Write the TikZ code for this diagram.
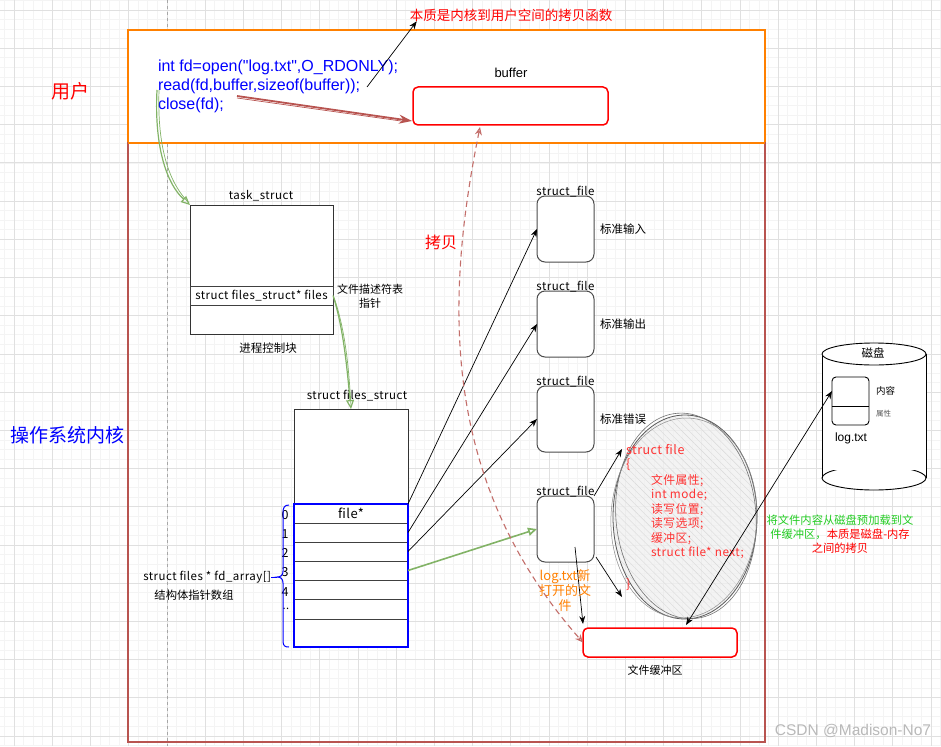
\documentclass[tikz,border=0pt]{standalone}
\usepackage{fontspec}
\setmainfont{Noto Sans CJK SC}
\newfontfamily\arialf{Liberation Sans}
\newfontfamily\labf[LetterSpace=4]{Noto Sans CJK SC}
\usetikzlibrary{arrows.meta,calc,patterns.meta}
\definecolor{kred}{HTML}{B85450}
\definecolor{uorange}{HTML}{FF8000}
\definecolor{sgreen}{HTML}{82B366}
\definecolor{tred}{HTML}{FF0000}
\definecolor{ered}{HTML}{FF3333}
\definecolor{gtxt}{HTML}{22CC22}
\definecolor{minorg}{HTML}{F4F4F4}
\definecolor{majorg}{HTML}{E0E0E0}
\definecolor{otxt}{HTML}{FF8000}
\begin{document}
\begin{tikzpicture}[x=1pt,y=-1pt,
  fs/.style={font=\fontsize{#1}{#1}\selectfont},
  lf/.style={font=\labf\fontsize{#1}{#1}\selectfont},
  lbl/.style={inner sep=0pt, outer sep=0pt},
  box/.style={draw=black!80, line width=1pt, fill=white, inner sep=0pt, outer sep=0pt, anchor=north west},
  rowbox/.style={draw=black!75, line width=1pt, fill=white, inner sep=0pt, outer sep=0pt, anchor=north west, minimum width=114pt},
  sfbox/.style={draw=black!70, line width=1pt, fill=white, rounded corners=8pt, minimum width=57pt, minimum height=66pt, anchor=north west, inner sep=0pt, outer sep=0pt},
  redbox/.style={draw=red, line width=1.5pt, rounded corners=5pt, fill=white, anchor=north west, inner sep=0pt, outer sep=0pt},
  arr/.style={-{Stealth[length=8pt,width=6pt]}, line width=0.7pt},
  garr/.style={sgreen, line width=1.2pt, -{Triangle[open,length=9pt,width=8pt]}},
  gline/.style={sgreen, line width=0.7pt}
]
\useasboundingbox (0,0) rectangle (941,746);
\fill[white] (0,0) rectangle (941,746);
% grid
\foreach \i in {0,...,99} {
  \draw[minorg, line width=0.5pt] ({4.45+9.55*\i},0) -- ({4.45+9.55*\i},746);
  \draw[minorg, line width=0.5pt] (0,{0.45+9.55*\i}) -- (941,{0.45+9.55*\i});
}
\foreach \i in {0,...,25} {
  \draw[majorg, line width=0.6pt] ({14+38.2*\i},0) -- ({14+38.2*\i},746);
  \draw[majorg, line width=0.6pt] (0,{10+38.2*\i}) -- (941,{10+38.2*\i});
}
\draw[gray!70, dashed, line width=0.6pt] (167,0) -- (167,746);

% user and kernel regions
\node[lbl, draw=uorange, line width=2.5pt, fill=white, anchor=north west, minimum width=637pt, minimum height=113pt] (user) at (128,30) {};
\node[lbl, draw=kred, line width=2.5pt, anchor=north west, minimum width=637pt, minimum height=599pt] (kernel) at (128,143) {};
\draw[uorange, line width=2.5pt] (user.south west) -- (user.south east);

\node[lbl, text=tred, fs=19] (ulabel) at (70,91) {用户};
\node[lbl, text=blue, fs=19] (klabel) at (67,435) {操作系统内核};

% code
\node[lbl, anchor=base west, text=blue, font=\arialf\fontsize{16}{19}\selectfont] (code1) at (158,72) {int fd=open("log.txt",O\_RDONLY);};
\node[lbl, anchor=base west, text=blue, font=\arialf\fontsize{16}{19}\selectfont] (code2) at (158,91) {read(fd,buffer,sizeof(buffer));};
\node[lbl, anchor=base west, text=blue, font=\arialf\fontsize{16}{19}\selectfont] (code3) at (158,110) {close(fd);};
\coordinate (gstart) at (157,90);
\coordinate (rdsrc) at (237,96);
\coordinate (rdend) at (367,87);

\node[lbl, text=tred, fs=13.5] (topnote) at (511,15) {本质是内核到用户空间的拷贝函数};

% buffer
\node[lbl, font=\arialf\fontsize{13}{13}\selectfont] (buflbl) at (511,73) {buffer};
\node[redbox, minimum width=195pt, minimum height=38pt] (buf) at (413,87) {};

% task_struct
\node[lbl, lf=11.5] (tasklbl) at (261,196) {task\_struct};
\node[box, minimum width=143pt, minimum height=129pt] (task) at (190,205) {};
\node[rowbox, minimum width=143pt, minimum height=19pt, lf=11.5] (trow) at (190,286) {struct files\_struct* files};
\node[lbl, fs=11.5] (pcb) at (268,348) {进程控制块};
\node[lbl, align=center, font=\fontsize{11}{14}\selectfont] (fdtp) at (370,296) {文件描述符表\\指针};

% files_struct
\node[lbl, lf=11.5] (fslbl) at (357,396) {struct files\_struct};
\node[box, minimum width=114pt, minimum height=238pt] (fsbox) at (294,409) {};
\node[rowbox, minimum height=19pt, lf=13] (r0) at (294,504) {file*};
\node[rowbox, minimum height=19pt] (r1) at (294,523) {};
\node[rowbox, minimum height=19pt] (r2) at (294,542) {};
\node[rowbox, minimum height=19pt] (r3) at (294,561) {};
\node[rowbox, minimum height=19pt] (r4) at (294,580) {};
\node[rowbox, minimum height=20pt] (r5) at (294,599) {};
\node[rowbox, minimum height=28pt] (r6) at (294,619) {};
\node[lbl, draw=blue, line width=1.8pt, anchor=north west, minimum width=114pt, minimum height=143pt] (fdarr) at (294,504) {};

\foreach \n/\y in {0/515,1/534,2/553,3/572,4/592} {
  \node[lbl, lf=12.5] (num\n) at (285,\y) {\n};
}
\node[lbl, lf=11] (numdots) at (286,609) {..};
\draw[blue, line width=1pt] (289,505) .. controls (284,505) and (283,508) .. (283,513) -- (283,571) .. controls (283,575) and (281,577) .. (277,577) .. controls (281,577) and (283,579) .. (283,583) -- (283,641) .. controls (283,646) and (285,647) .. (289,647);
\node[lbl, lf=11.5, anchor=east] (fdalbl) at (271,577) {struct files * fd\_array[]};
\draw[blue, line width=1pt] (fdalbl.east) -- (277,577);
\node[lbl, fs=11.3] (fdacn) at (194,595) {结构体指针数组};

% struct_file boxes
\foreach \k/\y in {1/196,2/291,3/386,4/496} {
  \node[sfbox] (sf\k) at (537,\y) {};
  \node[lbl, lf=11.5, anchor=south] (sfl\k) at ($(sf\k.north)+(0,1)$) {struct\_file};
}
\node[lbl, fs=11.5, anchor=west] (std0) at (600,229) {标准输入};
\node[lbl, fs=11.5, anchor=west] (std1) at (600,324) {标准输出};
\node[lbl, fs=11.5, anchor=west] (std2) at (600,419) {标准错误};

\draw[arr] (r0.north east) -- (sf1.west);
\draw[arr] (r1.east) -- (sf2.west);
\draw[arr] (r2.east) -- (sf3.west);

% ellipse (struct file)
\coordinate (ell) at (685,517);
\fill[gray!12, opacity=0.8] (ell) ellipse [x radius=72pt, y radius=102pt];
\fill[pattern={Lines[angle=-45,distance=5pt,line width=0.4pt]}, pattern color=gray!30] (ell) ellipse [x radius=72pt, y radius=102pt];
\draw[black!65, line width=0.8pt] (ell) ellipse [x radius=72pt, y radius=102pt];
\draw[black!55, line width=0.6pt, rotate around={5:(ell)}] ($(ell)+(1,-1)$) ellipse [x radius=70pt, y radius=103pt];
\draw[black!45, line width=0.5pt, rotate around={-3:(ell)}] ($(ell)+(-1,1)$) ellipse [x radius=73pt, y radius=100pt];
\node[lbl, text=ered, lf=12.5, anchor=west] (ef0) at (626,450) {struct file};
\node[lbl, text=ered, lf=12.5, anchor=west] (ef1) at (626,465) {\{};
\node[lbl, text=ered, anchor=north west, align=left, font=\labf\fontsize{11.8}{14.5}\selectfont] (ef2) at (651,474) {文件属性;\\int mode;\\读写位置;\\读写选项;\\缓冲区;\\struct file* next;};
\node[lbl, text=ered, lf=12.5, anchor=west] (ef3) at (626,585) {\}};
\coordinate (elltop) at (622,449);
\coordinate (ellbot) at (622,597);
\draw[arr] (sf4.north east) -- (elltop);
\draw[arr] ($(sf4.south east)+(2,-5)$) -- (ellbot);

% file buffer
\node[redbox, minimum width=154pt, minimum height=29pt] (fbuf) at (583,628) {};
\node[lbl, fs=11] (fbuflbl) at (655,670) {文件缓冲区};
\draw[arr] ($(sf4.center)+(9.5,18)$) -- ($(fbuf.north west)+(0,-4)$);
\node[lbl, text=otxt, align=center, font=\fontsize{13}{15}\selectfont] (newf) at (565,591) {log.txt新\\打开的文\\件};

% green arrows
\draw[garr] (gstart) .. controls (154,150) and (168,185) .. (task.north west);
\draw[gline] ($(gstart)+(2,0)$) .. controls (157,150) and (170,184) .. ($(task.north west)+(-1,-2)$);
\draw[garr] (trow.east) .. controls (344,330) and (347,370) .. (fsbox.north);
\draw[gline] ($(trow.east)+(1,2)$) .. controls (346,332) and (349,372) .. ($(fsbox.north)+(0,-3)$);
\draw[garr, line width=1.6pt] (r3.east) -- (sf4.west);

% copy arrows
\draw[kred, line width=1.8pt, -{Stealth[length=13pt,width=9pt]}] (rdsrc) -- ($(buf.south west)+(-1,-4)$);
\draw[kred, line width=0.7pt] ($(rdsrc)+(0,2)$) -- ($(buf.south west)+(-12,-4)$);
\draw[arr] (rdend) -- ($(topnote.south west)+(7,0)$);
\draw[kred!85, dashed, dash pattern=on 6pt off 4pt, line width=1.1pt, {Stealth[open,length=8pt,width=7pt]}-{Stealth[open,length=8pt,width=7pt]}] ($(buf.south west)+(67,2)$) .. controls (445,300) and (440,480) .. (fbuf.west);
\node[lbl, text=tred, fs=16] (copylbl) at (441,242) {拷贝};

% disk
\coordinate (dtop) at (874,354);
\coordinate (dbot) at (874,478);
\fill[white] (822,354) rectangle (926,478);
\draw[line width=0.9pt, fill=white] (dbot) ellipse [x radius=52pt, y radius=12pt];
\fill[white] (822,354) rectangle (926,470);
\draw[line width=0.9pt] (822,354) -- (822,478);
\draw[line width=0.9pt] (926,354) -- (926,478);
\draw[line width=0.9pt, fill=white] (dtop) ellipse [x radius=52pt, y radius=11pt];
\node[lbl, fs=11.5] (disklbl) at (873,353) {磁盘};
\node[lbl, draw, line width=0.9pt, rounded corners=4pt, fill=white, anchor=north west, minimum width=37pt, minimum height=48pt] (dlog) at (832,377) {};
\draw[line width=0.9pt] ($(dlog.north west)+(0,29)$) -- ($(dlog.north east)+(0,29)$);
\node[lbl, fs=9.5, anchor=west] (dcont) at (876,391) {内容};
\node[lbl, fs=7.5, anchor=west, text=gray!70!black] (dattr) at (876,414) {属性};
\node[lbl, font=\arialf\fontsize{12}{12}\selectfont] (dname) at (851,438) {log.txt};
\draw[{Stealth[length=8pt,width=6pt]}-{Stealth[length=8pt,width=6pt]}, line width=0.7pt] ($(fbuf.north west)+(103,-3)$) -- ($(dlog.north west)+(0,14)$);
\node[lbl, align=center, font=\fontsize{11.3}{14.3}\selectfont] (disknote) at (840,534) {{\color{gtxt}将文件内容从磁盘预加载到文}\\{\color{gtxt}件缓冲区，}{\color{tred}本质是磁盘-内存}\\{\color{tred}之间的拷贝}};

\node[lbl, text=gray!55, font=\arialf\fontsize{15.5}{15.5}\selectfont] (wm) at (853,731) {CSDN @Madison-No7};
\end{tikzpicture}
\end{document}
